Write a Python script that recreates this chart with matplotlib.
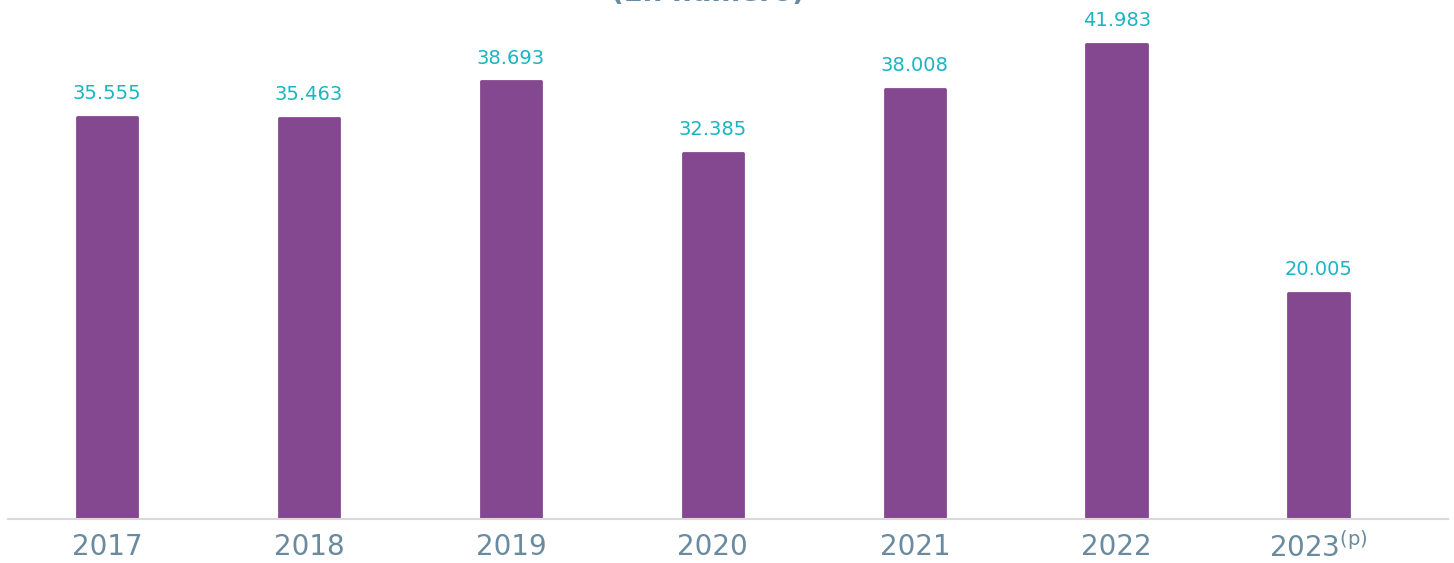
import matplotlib
matplotlib.use('Agg')
import matplotlib.pyplot as plt
import numpy as np

# Values
years = ['2017', '2018', '2019', '2020', '2021', '2022', '2023$^{\\mathregular{(p)}}$']
values = [35555, 35463, 38693, 32385, 38008, 41983, 20005]
value_labels = ['35.555', '35.463', '38.693', '32.385', '38.008', '41.983', '20.005']

bar_color = '#83488f'
label_color = '#1ab4c2'
tick_color = '#6a8aa0'

fig = plt.figure(figsize=(14.54, 5.63), dpi=100)
ax = fig.add_axes([8 / 1454, 44 / 563, 1440 / 1454, 519 / 563])

x = np.arange(len(years))
bars = ax.bar(x, values, width=0.3, color=bar_color, edgecolor=bar_color,
              linewidth=2, joinstyle='round', zorder=2)

for xi, v, lab in zip(x, values, value_labels):
    ax.annotate(lab, (xi, v), xytext=(0, 10), textcoords='offset points',
                ha='center', va='bottom', fontsize=14, color=label_color)

ax.set_xlim(-0.49, 6.64)
ax.set_ylim(0, 45900)
ax.set_xticks(x)
ax.set_xticklabels(years, fontsize=20, color=tick_color)
ax.tick_params(axis='x', length=0, pad=10)
ax.set_yticks([])

for side in ['top', 'right', 'left']:
    ax.spines[side].set_visible(False)
ax.spines['bottom'].set_color('#d9d9d9')
ax.spines['bottom'].set_linewidth(1.5)
ax.spines['bottom'].set_zorder(3)

# title is cut off at the top of the image
fig.text(0.487, 1 - 7 / 563, '(En número)', ha='center', va='bottom',
         fontsize=20, fontweight='bold', color='#6b8aa3')

fig.savefig('out.png', dpi=100)
